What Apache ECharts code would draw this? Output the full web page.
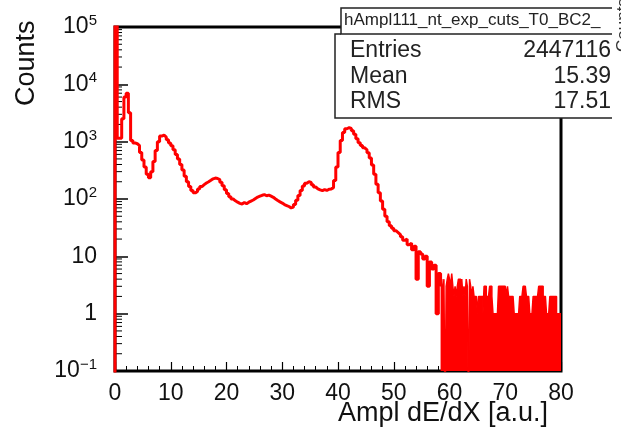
<!DOCTYPE html>
<html>
<head>
<meta charset="utf-8">
<script src="https://cdn.jsdelivr.net/npm/echarts@6/dist/echarts.min.js"></script>
<style>
  html, body { margin: 0; padding: 0; background: #fff; }
  #chart { width: 621px; height: 438px; }
</style>
</head>
<body>
<div id="chart"></div>
<script>
// histogram body: 0.4 wide bins starting at 0
var bodyStart = 0, bodyWidth = 0.4;
var bodyCounts = [
  300000, 1150, 1150, 2500, 6000, 7000, 3200, 1050, 950, 920,
  850, 650, 480, 360, 270, 235, 300, 450, 700, 1000,
  1250, 1300, 1200, 1080, 950, 850, 720, 600, 500, 400,
  320, 250, 200, 165, 140, 128, 135, 150, 165, 178,
  190, 200, 212, 225, 232, 228, 218, 195, 170, 145,
  125, 110, 100, 93, 88, 84, 82, 87, 83, 88,
  92, 96, 102, 108, 112, 116, 119, 114, 117, 112,
  107, 100, 94, 89, 85, 80, 77, 74, 70, 72,
  80, 95, 115, 140, 168, 188, 200, 195, 178, 162,
  150, 144, 140, 146, 141, 148, 150, 158, 210, 360,
  650, 1050, 1450, 1680, 1750, 1700, 1550, 1350, 1120, 960,
  860, 780, 720, 640, 520, 390, 270, 180, 128, 92,
  66, 50, 40, 34, 31, 28, 26, 24, 22, 19,
  20, 16, 17, 13, 15, 4, 12, 11, 9, 10,
  3, 8, 6, 7, 1, 5
];
// tail: 0.2 wide bins starting at 58.4, low counts
var tailStart = 58.4, tailWidth = 0.2;
var tailCounts = [
  3, 4, 2, 4, 0, 3, 4, 5, 4, 3, 5, 3, 2, 3, 2, 3, 4, 4, 3, 4,
  2, 3, 2, 4, 3, 0, 4, 3, 2, 3, 2, 2, 2, 1, 2, 2, 2, 2, 1, 3,
  3, 2, 2, 2, 3, 3, 2, 1, 1, 1, 1, 1, 3, 3, 3, 3, 3, 3, 3, 2,
  3, 2, 2, 2, 2, 2, 1, 1, 1, 1, 1, 2, 2, 2, 3, 3, 3, 2, 2, 2,
  1, 1, 1, 2, 2, 2, 2, 2, 3, 3, 3, 3, 2, 2, 2, 1, 1, 1, 2, 2,
  2, 2, 2, 2, 1, 1, 1, 1
];
var xTicks = [0, 10, 20, 30, 40, 50, 60, 70, 80];
var statNames = ['Entries', 'Mean', 'RMS'];
var statValues = ['2447116', '15.39', '17.51'];
var histName = 'hAmpl111_nt_exp_cuts_T0_BC2_';

var EMPTY = 0.01; // below the axis minimum, so empty bins drop out of the frame
function fix(v) { return v > 0 ? v : EMPTY; }

var bodyData = [[bodyStart, EMPTY]];
bodyCounts.forEach(function (c, i) { bodyData.push([bodyStart + i * bodyWidth, fix(c)]); });
bodyData.push([bodyStart + bodyCounts.length * bodyWidth, fix(tailCounts[0])]);

var tailData = [];
tailCounts.forEach(function (c, i) { tailData.push([+(tailStart + i * tailWidth).toFixed(2), fix(c)]); });
tailData.push([80, fix(tailCounts[tailCounts.length - 1])]);

// log-spaced minor ticks for the y axis
var minorY = [];
for (var k = -1; k < 5; k++) {
  for (var m = 2; m <= 9; m++) minorY.push([0, m * Math.pow(10, k)]);
}

var FONT = 'Liberation Sans';
var myChart = echarts.init(document.getElementById('chart'));
var option = {
  backgroundColor: '#fff',
  animation: false,
  grid: {
    left: 115, top: 27, width: 446, height: 344,
    show: true, borderColor: '#000', borderWidth: 3, backgroundColor: '#fff'
  },
  xAxis: {
    type: 'value', min: 0, max: 80, interval: 10,
    axisLine: { show: false },
    axisTick: { inside: true, length: 9, lineStyle: { color: '#000', width: 1.2 } },
    minorTick: { show: true, splitNumber: 5, length: 5, lineStyle: { color: '#000', width: 1 } },
    splitLine: { show: false },
    axisLabel: {
      margin: 11, color: '#111', fontFamily: FONT, fontSize: 23,
      formatter: function (v) { return xTicks.indexOf(v) >= 0 ? String(v) : ''; }
    }
  },
  yAxis: {
    type: 'log', logBase: 10, min: 0.1, max: 100000, interval: 1,
    axisLine: { show: false },
    axisTick: { inside: true, length: 13, lineStyle: { color: '#000', width: 1.5 } },
    splitLine: { show: false },
    axisLabel: {
      margin: 18, color: '#111', fontFamily: FONT, fontSize: 23,
      formatter: function (v) {
        var n = Math.round(Math.log10(v));
        if (n === 0) return '1';
        if (n === 1) return '10';
        return '10{sup|' + (n < 0 ? '\u2212' + (-n) : n) + '}';
      },
      rich: {
        sup: { fontFamily: FONT, fontSize: 15, color: '#111', verticalAlign: 'top', padding: [0, 0, 12, 0] }
      }
    }
  },
  series: [
    {
      type: 'custom',
      coordinateSystem: 'cartesian2d',
      data: minorY,
      silent: true,
      z: 3,
      renderItem: function (params, api) {
        var p = api.coord([0, api.value(1)]);
        return {
          type: 'line',
          shape: { x1: p[0], y1: p[1], x2: p[0] + 7, y2: p[1] },
          style: { stroke: '#000', lineWidth: 1 }
        };
      }
    },
    {
      type: 'line', step: 'end', data: bodyData, symbol: 'none', clip: true,
      lineStyle: { color: '#ff0000', width: 3 }, z: 4
    },
    {
      type: 'line', step: 'end', data: tailData, symbol: 'none', clip: true,
      lineStyle: { color: '#ff0000', width: 1.5 },
      areaStyle: { color: '#ff0000', opacity: 1, origin: 'start' }, z: 4
    }
  ],
  graphic: [
    {
      type: 'text', z: 10, x: 13, y: 106, rotation: Math.PI / 2,
      style: { text: 'Counts', font: '27px ' + FONT, fill: '#111' }
    },
    {
      type: 'text', z: 10, x: 548, y: 400,
      style: { text: 'Ampl dE/dX [a.u.]', font: '27px ' + FONT, fill: '#111', align: 'right' }
    },
    {
      type: 'text', z: 10, x: 615, y: 52, rotation: Math.PI / 2,
      style: { text: 'Counts', font: '17px ' + FONT, fill: '#333' }
    },
    {
      type: 'group', z: 20,
      children: [
        { type: 'rect', shape: { x: 335, y: 34, width: 277, height: 84 },
          style: { fill: '#fff', stroke: null } },
        { type: 'rect', shape: { x: 341, y: 8, width: 271, height: 26 },
          style: { fill: '#fff', stroke: null } },
        { type: 'polyline', shape: { points: [[612, 8], [341, 8], [341, 34], [612, 34]] },
          style: { stroke: '#222', lineWidth: 1.5, fill: null } },
        { type: 'polyline', shape: { points: [[341, 34], [335, 34], [335, 118], [612, 118]] },
          style: { stroke: '#222', lineWidth: 1.5, fill: null } },
        { type: 'text', x: 344, y: 12,
          style: { text: histName, font: '17px ' + FONT, fill: '#222' } },
        { type: 'text', x: 350, y: 39,
          style: { text: statNames[0], font: '23px ' + FONT, fill: '#222' } },
        { type: 'text', x: 350, y: 65,
          style: { text: statNames[1], font: '23px ' + FONT, fill: '#222' } },
        { type: 'text', x: 350, y: 90,
          style: { text: statNames[2], font: '23px ' + FONT, fill: '#222' } },
        { type: 'text', x: 611, y: 39,
          style: { text: statValues[0], font: '23px ' + FONT, fill: '#222', align: 'right' } },
        { type: 'text', x: 611, y: 65,
          style: { text: statValues[1], font: '23px ' + FONT, fill: '#222', align: 'right' } },
        { type: 'text', x: 611, y: 90,
          style: { text: statValues[2], font: '23px ' + FONT, fill: '#222', align: 'right' } }
      ]
    }
  ]
};
myChart.setOption(option);
</script>
</body>
</html>
